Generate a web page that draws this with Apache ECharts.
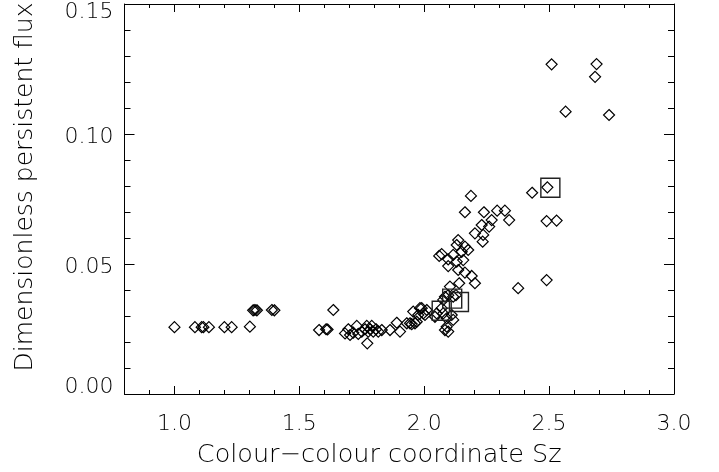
<!DOCTYPE html>
<html>
<head>
<meta charset="utf-8">
<script src="https://cdn.jsdelivr.net/npm/echarts@6/dist/echarts.min.js"></script>
<style>
html,body{margin:0;padding:0;background:#fff;}
#chart{width:719px;height:472px;}
</style>
</head>
<body>
<div id="chart"></div>
<script>
// Diamonds: colour-colour coordinate Sz vs dimensionless persistent flux
const diamondSz = [1.000,1.082,1.109,1.116,1.138,1.200,1.229,1.302,1.315,1.322,1.330,1.390,1.400,
  1.579,1.607,1.613,1.636,1.683,1.696,1.703,1.716,1.730,1.736,1.750,1.763,1.770,1.772,1.776,1.783,
  1.790,1.796,1.807,1.816,1.830,1.863,1.890,1.903,1.930,1.943,1.950,1.956,1.963,1.970,1.976,1.983,
  1.990,1.996,2.003,2.010,2.043,2.050,2.060,2.070,2.070,2.076,2.076,2.083,2.083,2.090,2.090,2.096,
  2.096,2.096,2.096,2.103,2.110,2.116,2.116,2.116,2.127,2.130,2.130,2.136,2.136,2.140,2.150,2.156,
  2.163,2.163,2.163,2.176,2.187,2.190,2.203,2.203,2.230,2.234,2.236,2.239,2.260,2.270,2.292,2.323,
  2.340,2.376,2.432,2.490,2.490,2.493,2.510,2.530,2.566,2.684,2.690,2.740];
const diamondFlux = [0.0257,0.0257,0.0257,0.0257,0.0257,0.0257,0.0257,0.0259,0.0322,0.0323,0.0322,0.0323,0.0322,
  0.0246,0.0249,0.0248,0.0323,0.0233,0.0249,0.0227,0.0236,0.0262,0.0231,0.0240,0.0249,0.0262,0.0195,0.0240,0.0249,
  0.0262,0.0240,0.0249,0.0240,0.0246,0.0246,0.0274,0.0240,0.0272,0.0272,0.0269,0.0317,0.0272,0.0278,0.0304,0.0330,
  0.0330,0.0310,0.0304,0.0323,0.0297,0.0310,0.0531,0.0538,0.0330,0.0362,0.0310,0.0374,0.0246,0.0291,0.0259,0.0240,
  0.0380,0.0492,0.0518,0.0413,0.0304,0.0285,0.0374,0.0535,0.0380,0.0573,0.0509,0.0592,0.0477,0.0426,0.0547,0.0515,
  0.0567,0.0467,0.0699,0.0554,0.0762,0.0454,0.0426,0.0618,0.0650,0.0586,0.0612,0.0699,0.0644,0.0669,0.0705,0.0705,
  0.0669,0.0407,0.0774,0.0438,0.0665,0.0795,0.1268,0.0667,0.1086,0.1220,0.1269,0.1073];
// Squares
const squareSz = [2.070, 2.112, 2.139, 2.505];
const squareFlux = [0.0320, 0.0367, 0.0354, 0.0793];

const xTickValues = [1.0, 1.5, 2.0, 2.5, 3.0];
const xTickLabels = ['1.0','1.5','2.0','2.5','3.0'];
const yTickLabels = ['0.00','0.05','0.10','0.15'];
const xTitle = 'Colour\u2212colour coordinate Sz';
const yTitle = 'Dimensionless persistent flux';

const FONT = 'DejaVu Sans';
const FW = 200;
const zip = (a, b) => a.map((v, i) => [v, b[i]]);

const chart = echarts.init(document.getElementById('chart'), null, {renderer: 'canvas'});
const line = {show: true, lineStyle: {color: '#000', width: 1}};
const noLine = {show: false};
const X_MIN = 0.8, X_MAX = 3.0;

function xAxisDef(pos, kind) {
  const base = {
    type: 'value', min: X_MIN, max: X_MAX, position: pos, interval: 0.1,
    splitLine: {show: false}, axisLabel: {show: false}, gridIndex: 0
  };
  if (kind === 'minor') {
    return Object.assign(base, {
      axisLine: line,
      axisTick: {show: true, inside: true, length: 4, lineStyle: {color: '#000'}}
    });
  }
  return Object.assign(base, {
    axisLine: noLine,
    axisTick: {show: true, inside: true, length: 8, customValues: xTickValues, lineStyle: {color: '#000'}}
  });
}

const xMain = xAxisDef('bottom', 'major');
xMain.axisLabel = {
  show: true, customValues: xTickValues,
  fontFamily: FONT, fontWeight: FW, fontSize: 22, color: '#000', margin: 19,
  formatter: v => xTickLabels[xTickValues.findIndex(t => Math.abs(t - v) < 1e-6)] || ''
};
xMain.name = xTitle;
xMain.nameLocation = 'middle';
xMain.nameGap = 48;
xMain.nameTextStyle = {fontFamily: FONT, fontWeight: FW, fontSize: 25.5, color: '#000', padding: [0, 40, 0, 0]};

const yCommon = {
  type: 'value', min: 0, max: 0.15, interval: 0.05,
  axisLine: line, splitLine: {show: false},
  axisTick: {show: true, inside: true, length: 10, lineStyle: {color: '#000'}},
  minorTick: {show: true, splitNumber: 5, length: 6, lineStyle: {color: '#000'}},
  minorSplitLine: {show: false}
};
const labStyle = {fontFamily: FONT, fontWeight: FW, fontSize: 22, color: '#000'};

chart.setOption({
  animation: false,
  backgroundColor: '#fff',
  grid: {left: 124.5, right: 45, top: 4, bottom: 78, containLabel: false, outerBoundsMode: 'none'},
  xAxis: [xMain, xAxisDef('bottom', 'minor'), xAxisDef('top', 'major'), xAxisDef('top', 'minor')],
  yAxis: [
    Object.assign({}, yCommon, {
      position: 'left',
      name: yTitle, nameLocation: 'middle', nameGap: 87, nameRotate: 90,
      nameTextStyle: {fontFamily: FONT, fontWeight: FW, fontSize: 25, color: '#000', padding: [0, 0, 0, 24]},
      axisLabel: {
        margin: 11,
        formatter: v => {
          const s = v.toFixed(2);
          if (!yTickLabels.includes(s)) return '';
          if (s === '0.00') return '{lo|' + s + '}';
          if (s === '0.15') return '{hi|' + s + '}';
          return '{n|' + s + '}';
        },
        rich: {
          lo: Object.assign({padding: [0, 0, 13, 0]}, labStyle),
          hi: Object.assign({padding: [17, 0, 0, 0]}, labStyle),
          n: Object.assign({padding: [6, 0, 0, 0]}, labStyle)
        }
      }
    }),
    Object.assign({}, yCommon, {position: 'right', axisLabel: {show: false}})
  ],
  series: [
    {
      type: 'scatter', xAxisIndex: 0, yAxisIndex: 0,
      data: zip(diamondSz, diamondFlux),
      symbol: 'diamond', symbolSize: [11, 11],
      itemStyle: {color: 'rgba(0,0,0,0)', borderColor: '#000', borderWidth: 1.2, opacity: 1},
      emphasis: {disabled: true}
    },
    {
      type: 'scatter', xAxisIndex: 0, yAxisIndex: 0,
      data: zip(squareSz, squareFlux),
      symbol: 'rect', symbolSize: 19,
      itemStyle: {color: 'rgba(0,0,0,0)', borderColor: '#222', borderWidth: 1.4, opacity: 1},
      emphasis: {disabled: true}
    }
  ]
});
</script>
</body>
</html>
